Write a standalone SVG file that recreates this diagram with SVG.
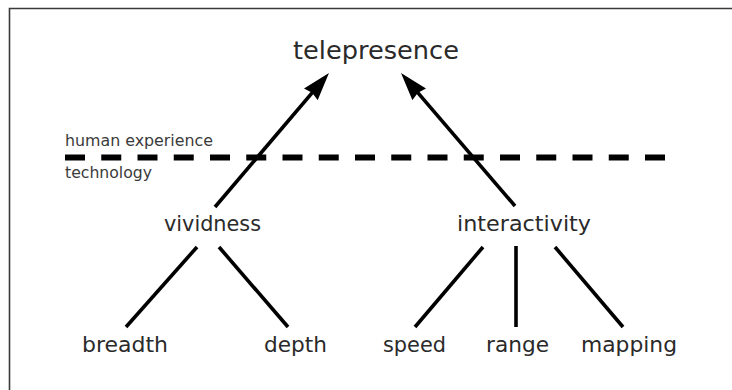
<svg xmlns="http://www.w3.org/2000/svg" width="732" height="390" viewBox="0 0 732 390">
<style>
.lbl{font-family:"DejaVu Sans","Noto Sans",sans-serif;fill:#2a2a2a;font-size:21px}
.big{font-size:25px}
.sm{font-family:"DejaVu Sans Condensed","DejaVu Sans",sans-serif;font-size:16px;fill:#3a3a3a}
.edge{stroke:#000;stroke-width:3.6;fill:none}
</style>
<defs>
<marker id="ah" markerUnits="userSpaceOnUse" viewBox="0 0 28 18" markerWidth="28" markerHeight="18" refX="18" refY="9" orient="auto">
<path d="M0,0 L28,9 L0,18 L2,9 z" fill="#000"/>
</marker>
</defs>
<rect width="732" height="390" fill="#fff"/>
<path d="M9.5,390 V8.5 H732" fill="none" stroke="#3a3a3a" stroke-width="1.6"/>
<g id="boundary">
<line x1="65" y1="157.5" x2="665" y2="157.5" stroke="#000" stroke-width="6" stroke-dasharray="20 16.25"/>
<text class="sm" x="65" y="146" textLength="148" lengthAdjust="spacingAndGlyphs">human experience</text>
<text class="sm" x="65" y="178" textLength="87" lengthAdjust="spacingAndGlyphs">technology</text>
</g>
<g id="connectors">
<line class="edge" x1="215" y1="207" x2="322.5" y2="80.6" marker-end="url(#ah)"/>
<line class="edge" x1="515" y1="206" x2="407.5" y2="80.6" marker-end="url(#ah)"/>
<line class="edge" x1="197" y1="247" x2="126" y2="327"/>
<line class="edge" x1="219" y1="247" x2="288" y2="327"/>
<line class="edge" x1="483" y1="247" x2="415" y2="327"/>
<line class="edge" x1="516" y1="246" x2="516" y2="327" stroke-width="5"/>
<line class="edge" x1="555" y1="247" x2="623" y2="327"/>
</g>
<g id="telepresence"><text class="lbl big" x="293" y="59" textLength="166" lengthAdjust="spacingAndGlyphs">telepresence</text></g>
<g id="vividness"><text class="lbl" x="164" y="231" textLength="97" lengthAdjust="spacingAndGlyphs">vividness</text></g>
<g id="interactivity"><text class="lbl" x="457" y="231" textLength="134" lengthAdjust="spacingAndGlyphs">interactivity</text></g>
<g id="breadth"><text class="lbl" x="82" y="352" textLength="86" lengthAdjust="spacingAndGlyphs">breadth</text></g>
<g id="depth"><text class="lbl" x="264" y="352" textLength="63" lengthAdjust="spacingAndGlyphs">depth</text></g>
<g id="speed"><text class="lbl" x="383" y="352" textLength="63" lengthAdjust="spacingAndGlyphs">speed</text></g>
<g id="range"><text class="lbl" x="486" y="352" textLength="63" lengthAdjust="spacingAndGlyphs">range</text></g>
<g id="mapping"><text class="lbl" x="581" y="352" textLength="96" lengthAdjust="spacingAndGlyphs">mapping</text></g>
</svg>
